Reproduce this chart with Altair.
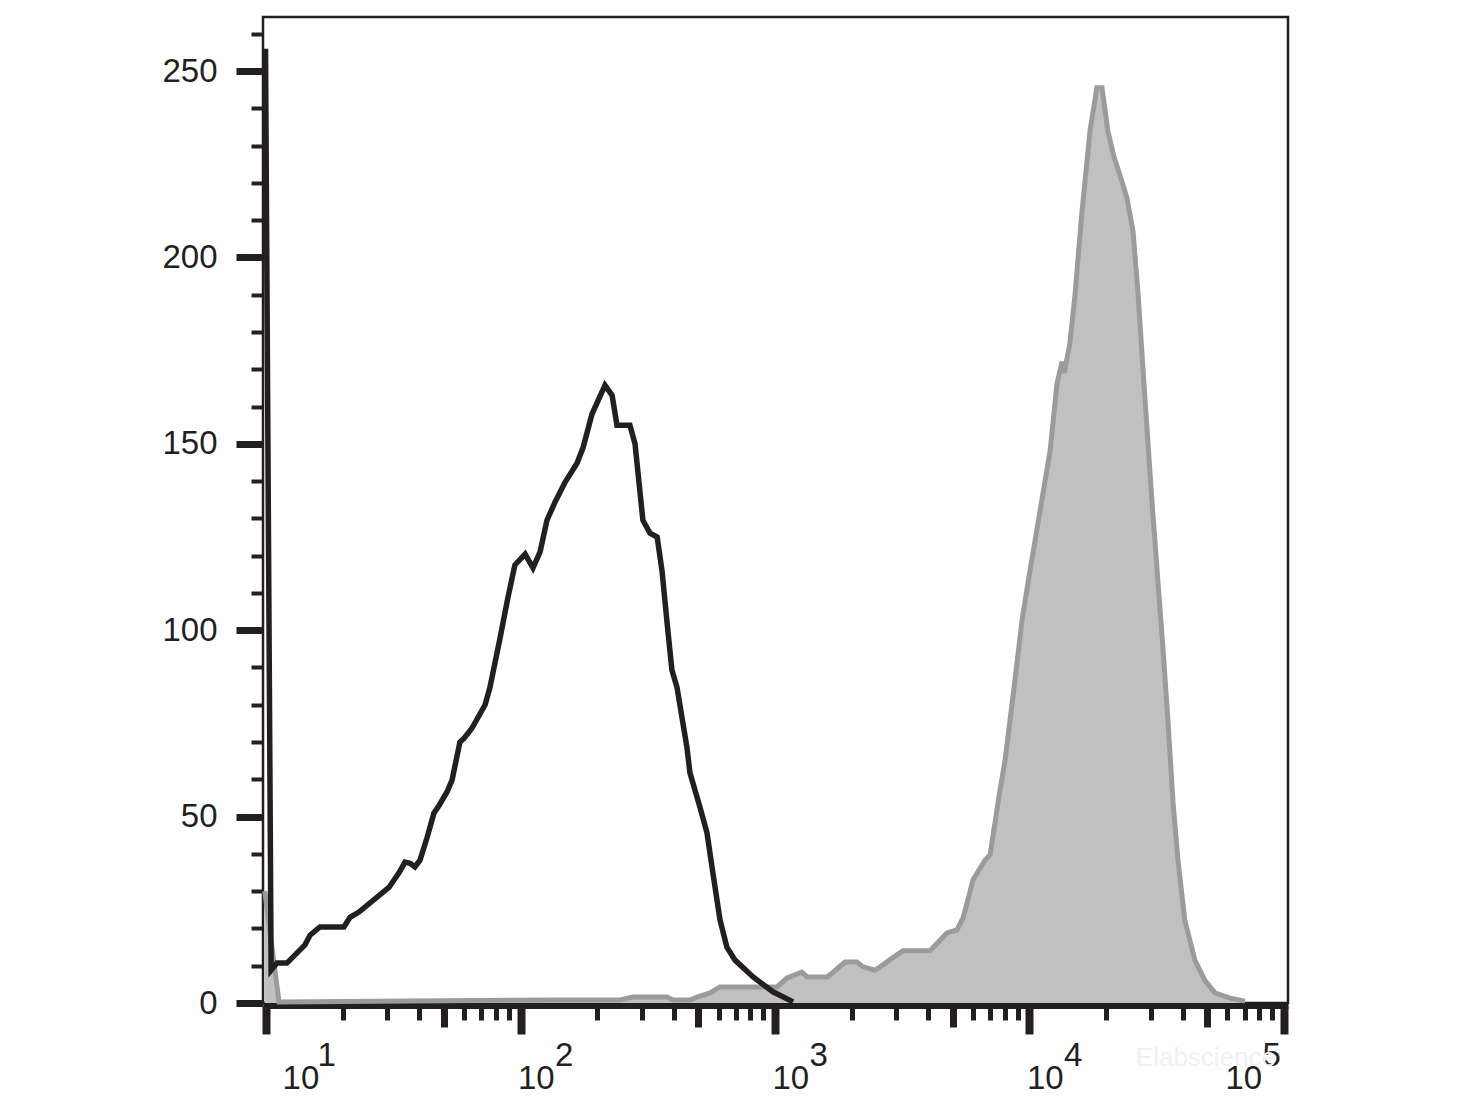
import altair as alt
import pandas as pd
import numpy as np

# ---- data (x as log10 fluorescence, y as count) ----
black_log = [0.998, 1.020, 1.043, 1.082, 1.153, 1.173, 1.212, 1.306, 1.330, 1.365,
             1.483, 1.523, 1.546, 1.566, 1.585, 1.605, 1.632, 1.660, 1.680, 1.711,
             1.731, 1.762, 1.778, 1.809, 1.861, 1.880, 1.920, 1.951, 1.978, 2.018,
             2.049, 2.077, 2.104, 2.136, 2.175, 2.222, 2.246, 2.281, 2.332, 2.360,
             2.379, 2.430, 2.450, 2.481, 2.509, 2.537, 2.556, 2.576, 2.595, 2.615,
             2.654, 2.666, 2.705, 2.733, 2.756, 2.784, 2.811, 2.843, 2.914, 2.992,
             3.071]
black_cnt = [256, 8.8, 10.7, 10.7, 15.6, 18.2, 20.4, 20.4, 23, 24.4,
             31, 35, 37.8, 37.5, 36.5, 38.3, 44.2, 51, 53, 56.6,
             59.8, 70, 71, 73.7, 80, 84.7, 98, 108.9, 117.5, 120.4,
             116.7, 121, 129.5, 134.4, 139.7, 144.8, 149, 158, 165.7, 163,
             155, 155, 150, 129.5, 126, 125, 116, 102, 89.3, 84.7,
             68.6, 61.7, 52.6, 45.6, 34.9, 22.3, 15, 11.5, 7, 3,
             0.3]

grey_log = [0.995, 1.051, 2.136, 2.391, 2.442, 2.576, 2.599, 2.666, 2.694, 2.745,
            2.784, 3.008, 3.047, 3.106, 3.126, 3.204, 3.224, 3.275, 3.322, 3.346,
            3.393, 3.413, 3.479, 3.503, 3.609, 3.676, 3.715, 3.739, 3.758, 3.778,
            3.825, 3.845, 3.884, 3.904, 3.943, 3.971, 4.002, 4.022, 4.049, 4.081,
            4.108, 4.128, 4.137, 4.159, 4.179, 4.206, 4.238, 4.265, 4.285, 4.308,
            4.332, 4.356, 4.383, 4.407, 4.426, 4.454, 4.481, 4.505, 4.525, 4.544,
            4.564, 4.584, 4.611, 4.650, 4.690, 4.729, 4.788, 4.847]
grey_cnt = [30, 0.3, 0.8, 0.8, 1.6, 1.6, 0.8, 0.8, 1.6, 2.7,
            4.3, 4.3, 6.7, 8.3, 7, 7, 8, 11, 11, 9.7,
            8.8, 9.7, 12.9, 14, 14, 18.8, 19.6, 22.8, 27.6, 33,
            38.3, 39.7, 57, 65, 86.6, 102.7, 116, 124, 135, 148,
            166, 172, 169, 177, 190, 212, 234, 245.5, 245.5, 234,
            227, 222, 216, 207, 191, 162, 135, 113, 94.7, 76,
            54, 38, 22, 11.5, 6, 2.7, 1.3, 0.5]

y_ticks = list(range(0, 261, 10))
y_major = [0, 50, 100, 150, 200, 250]
decades = [1, 2, 3, 4]
multipliers = [1, 2, 3, 4, 5, 6, 7, 8, 9]
x_major = [10, 100, 1000, 10000, 100000]
x_medium = [50, 500, 5000, 50000]
x_ticks = [m * 10 ** d for d in decades for m in multipliers] + [10 ** 5]
x_domain = [9.73, 103750]
y_domain = [0, 264.5]
watermark = "Elabscience"

black = pd.DataFrame({"x": 10 ** np.array(black_log), "count": black_cnt})
grey = pd.DataFrame({"x": 10 ** np.array(grey_log), "count": grey_cnt})

INK = "#231f20"
FONT = "Liberation Sans"

major_test = "indexof(" + str(x_major) + ", datum.value) >= 0"
medium_test = "indexof(" + str(x_medium) + ", datum.value) >= 0"
ymajor_test = "datum.value % 50 == 0"

xscale = alt.Scale(type="log", domain=x_domain, nice=False, zero=False)
yscale = alt.Scale(domain=y_domain, nice=False, zero=False)

x_axis_main = alt.Axis(
    values=x_ticks, title=None, grid=False, orient="bottom", offset=3,
    domain=True, domainColor=INK, domainWidth=5,
    ticks=True, tickColor=INK,
    tickSize={"condition": [{"test": major_test, "value": 28},
                            {"test": medium_test, "value": 21}], "value": 14},
    tickWidth={"condition": [{"test": major_test, "value": 8},
                             {"test": medium_test, "value": 7}], "value": 5},
    labelExpr=major_test + " ? '10' : ''",
    labelFont=FONT, labelFontSize=33, labelColor=INK, labelAlign="left",
    labelBaseline="top", labelPadding=28, labelOverlap=False, labelFlush=False,
    labelBound=False,
    labelOffset={"condition": [{"test": "datum.value < 20", "value": 16},
                               {"test": "datum.value > 50000", "value": -59}], "value": -3},
)

x_axis_exp = alt.Axis(
    values=x_major, title=None, grid=False, orient="bottom", offset=3,
    domain=False, ticks=False,
    labelExpr="'' + round(log(datum.value) / LN10)",
    labelFont=FONT, labelFontSize=33, labelColor=INK, labelAlign="left",
    labelBaseline="top", labelPadding=33, labelOverlap=False, labelFlush=False,
    labelBound=False,
    labelOffset={"condition": [{"test": "datum.value < 20", "value": 51},
                               {"test": "datum.value > 50000", "value": -22}], "value": 34},
)

y_axis = alt.Axis(
    values=y_ticks, title=None, grid=False, domain=False,
    ticks=True, tickColor=INK,
    tickSize={"condition": {"test": ymajor_test, "value": 27}, "value": 12},
    tickWidth={"condition": {"test": ymajor_test, "value": 7}, "value": 4},
    labelExpr=ymajor_test + " ? datum.label : ''",
    labelFont=FONT, labelFontSize=33, labelColor=INK, labelPadding=19,
    labelOverlap=False, labelFlush=False, labelBound=False,
)

grey_fill = alt.Chart(grey).mark_area(color="#c0c0c0", opacity=1).encode(
    x=alt.X("x:Q", scale=xscale, axis=x_axis_main),
    y=alt.Y("count:Q", scale=yscale, axis=y_axis),
)
grey_line = alt.Chart(grey).mark_line(color="#9b9b9b", strokeWidth=5).encode(
    x=alt.X("x:Q", scale=xscale, axis=None),
    y=alt.Y("count:Q", scale=yscale, axis=y_axis),
)
black_line = alt.Chart(black).mark_line(color=INK, strokeWidth=5.5).encode(
    x=alt.X("x:Q", scale=xscale, axis=x_axis_exp),
    y=alt.Y("count:Q", scale=yscale, axis=y_axis),
)

chart = alt.layer(grey_fill, grey_line, black_line).resolve_axis(
    x="independent"
).properties(
    width=1025, height=986,
    padding={"left": 255, "top": 9, "right": 150, "bottom": 92},
    autosize=alt.AutoSizeParams(type="none"),
    background="white",
    title=alt.TitleParams(
        watermark, orient="bottom", anchor="end", color="#f0f0f0",
        font=FONT, fontSize=26, fontWeight="normal", offset=-50, dx=-12,
    ),
).configure_view(
    stroke=INK, strokeWidth=2.5
)

chart.save("out.html", embed_options={"renderer": "svg", "actions": False})
